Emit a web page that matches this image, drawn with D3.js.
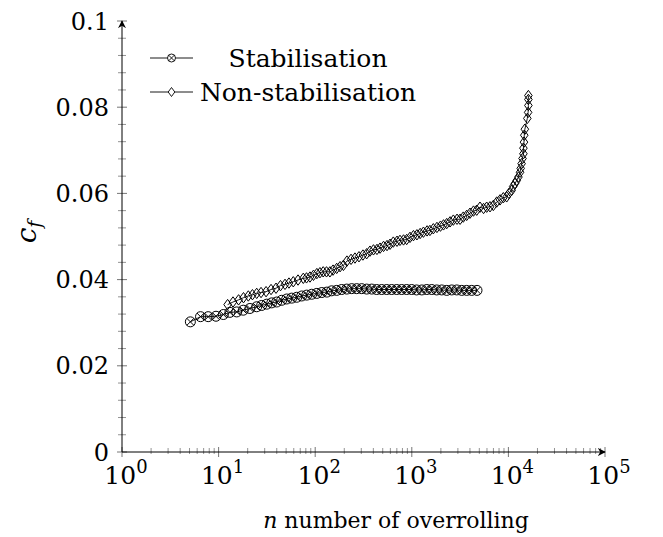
<!DOCTYPE html>
<html>
<head>
<meta charset="utf-8">
<script src="https://cdn.jsdelivr.net/npm/d3@7"></script>
<style>
  body { margin: 0; background: #fff; }
  text { font-family: "DejaVu Serif", serif; fill: #000; }
</style>
</head>
<body>
<div id="chart"></div>
<script>
const width = 663,
  height = 537;

// Stabilisation series (n, c_f)
const stabN = [5.1, 6.5, 7.8, 9.4, 11.2, 13.1, 15.4, 18, 21.1, 24.8, 27.9, 31.5, 35.5, 39.9, 45, 50.7,
  57.1, 64.3, 72.5, 81.7, 92, 104, 117, 132, 148, 167, 188, 212, 239, 269, 303, 341, 385, 433, 488,
  550, 619, 698, 786, 885, 997, 1120, 1270, 1430, 1610, 1810, 2040, 2300, 2590, 2920, 3290, 3700,
  4170, 4730];
const stabCf = [0.0302, 0.0314, 0.0314, 0.0315, 0.0319, 0.0324, 0.0325, 0.0329, 0.0333, 0.0337, 0.034,
  0.0343, 0.0346, 0.0348, 0.0352, 0.0355, 0.0357, 0.0359, 0.0362, 0.0364, 0.0366, 0.0368, 0.037,
  0.0371, 0.0374, 0.0375, 0.0377, 0.0378, 0.0379, 0.0379, 0.0379, 0.0378, 0.0378, 0.0377, 0.0377,
  0.0377, 0.0377, 0.0377, 0.0377, 0.0377, 0.0377, 0.0376, 0.0376, 0.0377, 0.0377, 0.0376, 0.0376,
  0.0375, 0.0376, 0.0376, 0.0375, 0.0375, 0.0375, 0.0375];

// Non-stabilisation series (n, c_f)
const nonN = [12.4, 14.1, 16.1, 18.1, 20.3, 22.4, 24.8, 27.5, 31, 34.9, 39.3, 43.7, 48.7, 53.5, 59.3,
  66.4, 75.3, 81.3, 88.3, 96, 104, 112, 121, 131, 142, 153, 167, 181, 196, 213, 235, 258, 284, 312,
  341, 369, 401, 436, 469, 510, 554, 595, 643, 703, 754, 821, 885, 958, 1040, 1130, 1220, 1320, 1440,
  1540, 1670, 1820, 1980, 2130, 2300, 2490, 2690, 2940, 3160, 3410, 3700, 4000, 4350, 4700, 5080,
  5530, 5960, 6450, 6980, 7570, 8190, 8860, 9600, 10140, 10800, 11200, 11700, 12200, 12700, 13200,
  13400, 13700, 14000, 14300, 14300, 14500, 14600, 14800, 15700, 16000, 16100, 16100, 16100];
const nonCf = [0.0342, 0.0348, 0.0353, 0.0358, 0.0362, 0.0365, 0.0368, 0.037, 0.0372, 0.0377, 0.038,
  0.0386, 0.0389, 0.0392, 0.0395, 0.0399, 0.0403, 0.0404, 0.0406, 0.041, 0.0414, 0.0416, 0.0418,
  0.0418, 0.0418, 0.0422, 0.0426, 0.043, 0.0433, 0.0443, 0.0447, 0.045, 0.0453, 0.0457, 0.046,
  0.0466, 0.0469, 0.047, 0.0473, 0.0477, 0.0479, 0.0482, 0.0487, 0.0489, 0.0491, 0.0492, 0.0493,
  0.0498, 0.0502, 0.0504, 0.0507, 0.051, 0.0513, 0.0514, 0.0518, 0.0521, 0.0524, 0.0527, 0.053,
  0.0534, 0.0538, 0.054, 0.054, 0.0545, 0.0549, 0.0554, 0.0559, 0.0561, 0.0568, 0.0565, 0.0568,
  0.0569, 0.0572, 0.058, 0.0585, 0.059, 0.0592, 0.06, 0.0607, 0.0616, 0.0623, 0.063, 0.0638, 0.0649,
  0.0658, 0.0669, 0.0681, 0.0692, 0.0705, 0.0719, 0.0735, 0.0749, 0.0774, 0.0788, 0.0804, 0.0818,
  0.0827];

const xTicks = [1, 10, 100, 1000, 10000, 100000];
const xTickExp = ["0", "1", "2", "3", "4", "5"];
const yTicks = [0, 0.02, 0.04, 0.06, 0.08, 0.1];
const yTickLabels = ["0", "0.02", "0.04", "0.06", "0.08", "0.1"];
const seriesNames = ["Stabilisation", "Non-stabilisation"];

const stab = stabN.map((n, i) => ({ n: n, cf: stabCf[i] }));
const non = nonN.map((n, i) => ({ n: n, cf: nonCf[i] }));

const x = d3.scaleLog().domain([1, 1e5]).range([122, 605]);
const y = d3.scaleLinear().domain([0, 0.1]).range([452, 21]);

const svg = d3.select("#chart").append("svg")
  .attr("width", width)
  .attr("height", height);

svg.append("defs").append("marker")
  .attr("id", "arrow")
  .attr("viewBox", "0 0 10 10")
  .attr("refX", 9).attr("refY", 5)
  .attr("markerWidth", 8).attr("markerHeight", 8)
  .attr("markerUnits", "userSpaceOnUse")
  .attr("orient", "auto")
  .append("path")
  .attr("d", "M0,0 L10,5 L0,10 L3,5 Z")
  .attr("fill", "#000");

// minor ticks
const xMinor = [];
for (let e = 0; e < 5; e++) for (let k = 2; k <= 9; k++) xMinor.push(k * Math.pow(10, e));
svg.append("g").selectAll("line").data(xMinor).enter().append("line")
  .attr("x1", (d) => x(d)).attr("x2", (d) => x(d))
  .attr("y1", y(0) - 4).attr("y2", y(0) + 2)
  .attr("stroke", "#777").attr("stroke-width", 0.8);

const yMinor = d3.range(0, 0.1001, 0.004).filter((d) => Math.round(d * 1000) % 20 !== 0);
svg.append("g").selectAll("line").data(yMinor).enter().append("line")
  .attr("x1", x(1) - 4).attr("x2", x(1) + 4)
  .attr("y1", (d) => y(d)).attr("y2", (d) => y(d))
  .attr("stroke", "#777").attr("stroke-width", 0.8);

// major ticks
svg.append("g").selectAll("line").data(xTicks).enter().append("line")
  .attr("x1", (d) => x(d)).attr("x2", (d) => x(d))
  .attr("y1", y(0) - 5).attr("y2", y(0) + 5)
  .attr("stroke", "#666").attr("stroke-width", 0.9);
svg.append("g").selectAll("line").data(yTicks).enter().append("line")
  .attr("x1", x(1) - 5).attr("x2", x(1) + 5)
  .attr("y1", (d) => y(d)).attr("y2", (d) => y(d))
  .attr("stroke", "#666").attr("stroke-width", 0.9);

// axis lines with arrows
svg.append("line")
  .attr("x1", x(1)).attr("x2", x(1e5)).attr("y1", y(0)).attr("y2", y(0))
  .attr("stroke", "#000").attr("stroke-width", 1)
  .attr("marker-end", "url(#arrow)");
svg.append("line")
  .attr("x1", x(1)).attr("x2", x(1)).attr("y1", y(0)).attr("y2", y(0.1))
  .attr("stroke", "#000").attr("stroke-width", 1)
  .attr("marker-end", "url(#arrow)");

// tick labels
const xl = svg.append("g").selectAll("text").data(xTicks).enter().append("text")
  .attr("x", (d) => x(d) + 4)
  .attr("y", 484)
  .attr("text-anchor", "middle")
  .attr("font-size", 25);
xl.append("tspan").text("10");
xl.append("tspan").attr("dy", -11).attr("font-size", 18).text((d, i) => xTickExp[i]);

svg.append("g").selectAll("text").data(yTicks).enter().append("text")
  .attr("x", 109)
  .attr("y", (d) => y(d))
  .attr("dy", "0.36em")
  .attr("text-anchor", "end")
  .attr("font-size", 24)
  .text((d, i) => yTickLabels[i]);

// axis labels
const xLab = svg.append("text")
  .attr("x", 396).attr("y", 528)
  .attr("text-anchor", "middle")
  .attr("font-size", 22);
xLab.append("tspan").attr("font-style", "italic").text("n");
xLab.append("tspan").text(" number of overrolling");

const yLab = svg.append("text")
  .attr("transform", "translate(36,232) rotate(-90)")
  .attr("text-anchor", "middle")
  .attr("font-size", 28);
yLab.append("tspan").attr("font-style", "italic").text("c");
yLab.append("tspan").attr("font-style", "italic").attr("font-size", 19).attr("dy", 5).text("f");

// marker drawing helpers
function otimes(g, r) {
  g.append("circle").attr("r", r);
  const a = r * Math.SQRT1_2;
  g.append("path").attr("d", `M${-a},${-a}L${a},${a}M${-a},${a}L${a},${-a}`);
}
function diamond(g, w, h) {
  g.append("path").attr("d", `M0,${-h}L${w},0L0,${h}L${-w},0Z`);
}

const line = d3.line().x((d) => x(d.n)).y((d) => y(d.cf));

// stabilisation
svg.append("path").datum(stab).attr("d", line)
  .attr("fill", "none").attr("stroke", "#000").attr("stroke-width", 0.9);
svg.append("g").selectAll("g").data(stab).enter().append("g")
  .attr("transform", (d) => `translate(${x(d.n)},${y(d.cf)})`)
  .attr("fill", "none").attr("stroke", "#000").attr("stroke-width", 1)
  .each(function () { otimes(d3.select(this), 5); });

// non-stabilisation
svg.append("path").datum(non).attr("d", line)
  .attr("fill", "none").attr("stroke", "#000").attr("stroke-width", 0.9);
svg.append("g").selectAll("g").data(non).enter().append("g")
  .attr("transform", (d) => `translate(${x(d.n)},${y(d.cf)})`)
  .attr("fill", "none").attr("stroke", "#000").attr("stroke-width", 1)
  .each(function () { diamond(d3.select(this), 3.8, 5.2); });

// legend
const legend = svg.append("g");
seriesNames.forEach((name, i) => {
  const ly = 58 + i * 34;
  legend.append("line")
    .attr("x1", 150).attr("x2", 193).attr("y1", ly).attr("y2", ly)
    .attr("stroke", "#000").attr("stroke-width", 0.9);
  const m = legend.append("g")
    .attr("transform", `translate(171.5,${ly})`)
    .attr("fill", "#fff").attr("stroke", "#000").attr("stroke-width", 0.9);
  if (i === 0) otimes(m, 4); else diamond(m, 3.3, 4.5);
  legend.append("text")
    .attr("x", 308).attr("y", ly).attr("dy", "0.35em")
    .attr("text-anchor", "middle")
    .attr("font-size", 25)
    .text(name);
});
</script>
</body>
</html>
